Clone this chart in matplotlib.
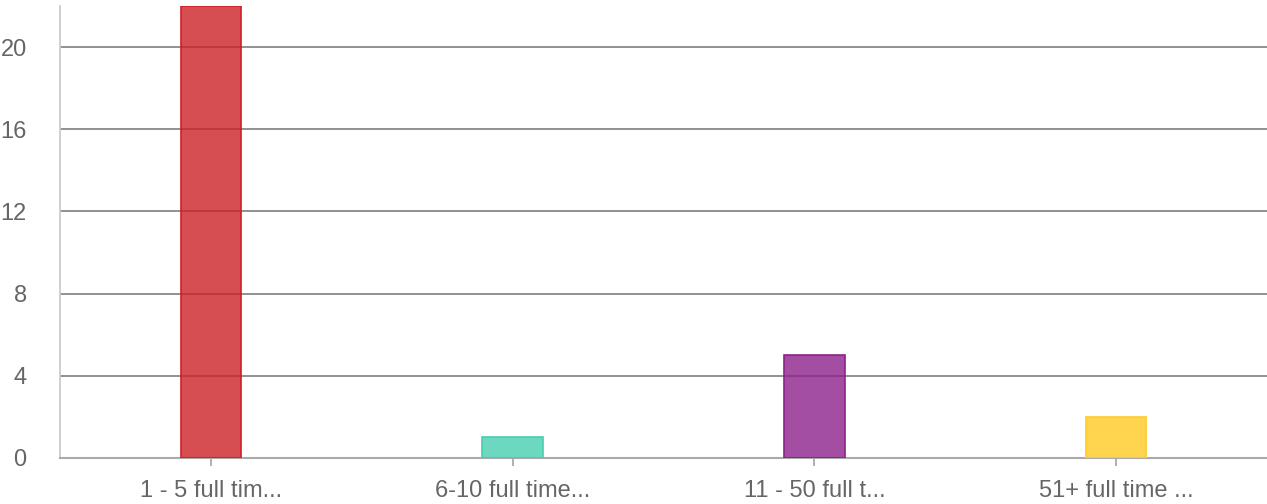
import matplotlib.pyplot as plt

categories = ['1 - 5 full tim...', '6-10 full time...', '11 - 50 full t...', '51+ full time ...']
counts = [22, 1, 5, 2]
colors = ['#cc2127', '#47cfb0', '#8c228b', '#ffca23']
yticks = [0, 4, 8, 12, 16, 20]

plt.rcParams['font.family'] = ['Liberation Sans', 'DejaVu Sans']

fig = plt.figure(figsize=(12.67, 5.04), dpi=100)
ax = fig.add_axes([60 / 1267, 1 - 458 / 504, 1 - 60 / 1267, 452 / 504])

x = range(len(categories))
ax.bar(x, counts, width=0.2, color=colors, alpha=0.8, zorder=3)
ax.bar(x, counts, width=0.2, color='none', edgecolor=colors, linewidth=1.2, zorder=4)

ax.set_xlim(-0.5, len(categories) - 0.5)
ax.set_ylim(0, 22)
ax.set_yticks(yticks)
ax.set_xticks(list(x))
ax.set_xticklabels(categories)

ax.grid(axis='y', color='#888888', linewidth=1.3, zorder=1)
ax.set_axisbelow(True)

for s in ['top', 'right']:
    ax.spines[s].set_visible(False)
ax.spines['left'].set_color('#cccccc')
ax.spines['left'].set_linewidth(1.3)
ax.spines['bottom'].set_color('#aaaaaa')
ax.spines['bottom'].set_linewidth(1.5)

ax.tick_params(axis='y', length=0, pad=24, labelsize=17, labelcolor='#666666')
ax.tick_params(axis='x', length=6, width=1.3, color='#aaaaaa', pad=10,
               labelsize=17, labelcolor='#666666')

fig.savefig('out.png', dpi=100)
